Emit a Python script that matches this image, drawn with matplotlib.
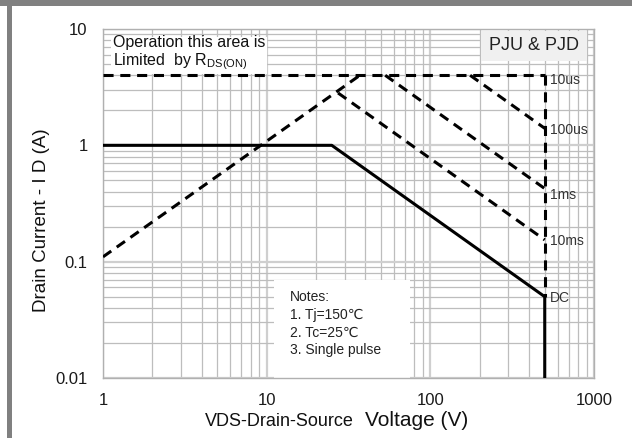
import matplotlib
matplotlib.use("Agg")
import matplotlib.pyplot as plt
from matplotlib.patches import Rectangle

plt.rcParams['font.family'] = ['Liberation Sans', 'DejaVu Sans']
plt.rcParams['mathtext.fontset'] = 'custom'
plt.rcParams['mathtext.rm'] = 'Liberation Sans'

# safe operating area curves (V, A)
dc_v = [1, 25, 500, 500]
dc_i = [1, 1, 0.05, 0.01]
rds_v = [1, 39]
rds_i = [0.11, 4.2]
limit_v = [1, 500]
limit_i = [4, 4]
us10_v = [500, 500]
us10_i = [4, 0.05]
us100_v = [175, 500]
us100_i = [4, 1.4]
ms1_v = [53, 500]
ms1_i = [4, 0.425]
ms10_v = [27.3, 500]
ms10_i = [2.82, 0.154]

curve_labels = ['10us', '100us', '1ms', '10ms', 'DC']
curve_label_i = [3.64, 1.35, 0.374, 0.150, 0.0486]

notes = ['Notes:', '1. Tj=150\u2103', '2. Tc=25\u2103', '3. Single pulse']

fig = plt.figure(figsize=(6.32, 4.38), dpi=100)
W, H = 632, 438
ax = fig.add_axes([103 / W, 1 - 378 / H, 491 / W, 349 / H])

# gray screenshot frame on top and left
fig.patches.append(Rectangle((0, 1 - 5.5 / H), 1, 5.5 / H, transform=fig.transFigure,
                             facecolor='#808080', edgecolor='none'))
fig.patches.append(Rectangle((7 / W, 0), 5 / W, 1, transform=fig.transFigure,
                             facecolor='#808080', edgecolor='none'))

ax.set_xscale('log')
ax.set_yscale('log')
ax.set_xlim(1, 1000)
ax.set_ylim(0.01, 10)

ax.set_axisbelow(True)
ax.grid(which='major', color='#cfcfcf', lw=1.6)
ax.grid(which='minor', color='#bdbdbd', lw=0.9)
for s in ax.spines.values():
    s.set_color('#b0b0b0')
    s.set_linewidth(1.0)

ax.set_xticks([1, 10, 100, 1000])
ax.set_xticklabels(['1', '10', '100', '1000'])
ax.set_yticks([0.01, 0.1, 1, 10])
ax.set_yticklabels(['0.01', '0.1', '1', '10'])
ax.tick_params(which='both', length=0)
ax.tick_params(axis='x', pad=11, labelsize=12, labelcolor='#1a1a1a')
ax.tick_params(axis='y', pad=11, labelsize=12, labelcolor='#1a1a1a')

dash = dict(color='black', lw=2.2, ls=(0, (3.3, 2.2)), zorder=3)
ax.plot(limit_v, limit_i, **dash)
ax.plot(rds_v, rds_i, **dash)
ax.plot(us10_v, us10_i, **dash)
ax.plot(us100_v, us100_i, **dash)
ax.plot(ms1_v, ms1_i, **dash)
ax.plot(ms10_v, ms10_i, **dash)
ax.plot(dc_v, dc_i, color='black', lw=2.2, zorder=4)

for lab, yi in zip(curve_labels, curve_label_i):
    ax.text(540, yi, lab, fontsize=10, color='#333333', ha='left', va='center')

# notes box
ax.add_patch(Rectangle(((274 - 103) / 491, 0), 136 / 491, 98 / 349, transform=ax.transAxes,
                       facecolor='white', edgecolor='none', zorder=1.5))
for k, line in enumerate(notes):
    ax.text((290 - 103) / 491, (378 - 297 - 17.7 * k) / 349, line, transform=ax.transAxes,
            fontsize=10, color='#222222', ha='left', va='center', zorder=5)

ax.text((113 - 103) / 491, (378 - 35) / 349,
        'Operation this area is\nLimited  by R$_\\mathrm{DS(ON)}$', transform=ax.transAxes,
        fontsize=11.5, color='#111111', ha='left', va='top', linespacing=1.1,
        bbox=dict(facecolor='white', edgecolor='none', pad=1.5), zorder=2)

ax.add_patch(Rectangle(((481 - 103) / 491, (378 - 61) / 349), 106 / 491, 30 / 349,
                       transform=ax.transAxes, facecolor='#f0f0f0', edgecolor='none', zorder=2))
ax.text((534 - 103) / 491, (378 - 46) / 349, 'PJU & PJD', transform=ax.transAxes,
        fontsize=13, color='#222222', ha='center', va='center', zorder=3)

# axis titles
fig.text(205 / W, 1 - 426 / H, 'VDS-Drain-Source', fontsize=13, color='#111111',
         ha='left', va='baseline')
fig.text(365 / W, 1 - 426 / H, 'Voltage (V)', fontsize=15, color='#111111',
         ha='left', va='baseline')
fig.text(41.5 / W, 1 - 220 / H, 'Drain Current - I D (A)', fontsize=13.5, color='#111111',
         rotation=90, ha='center', va='center')

fig.savefig('out.png', dpi=100)
